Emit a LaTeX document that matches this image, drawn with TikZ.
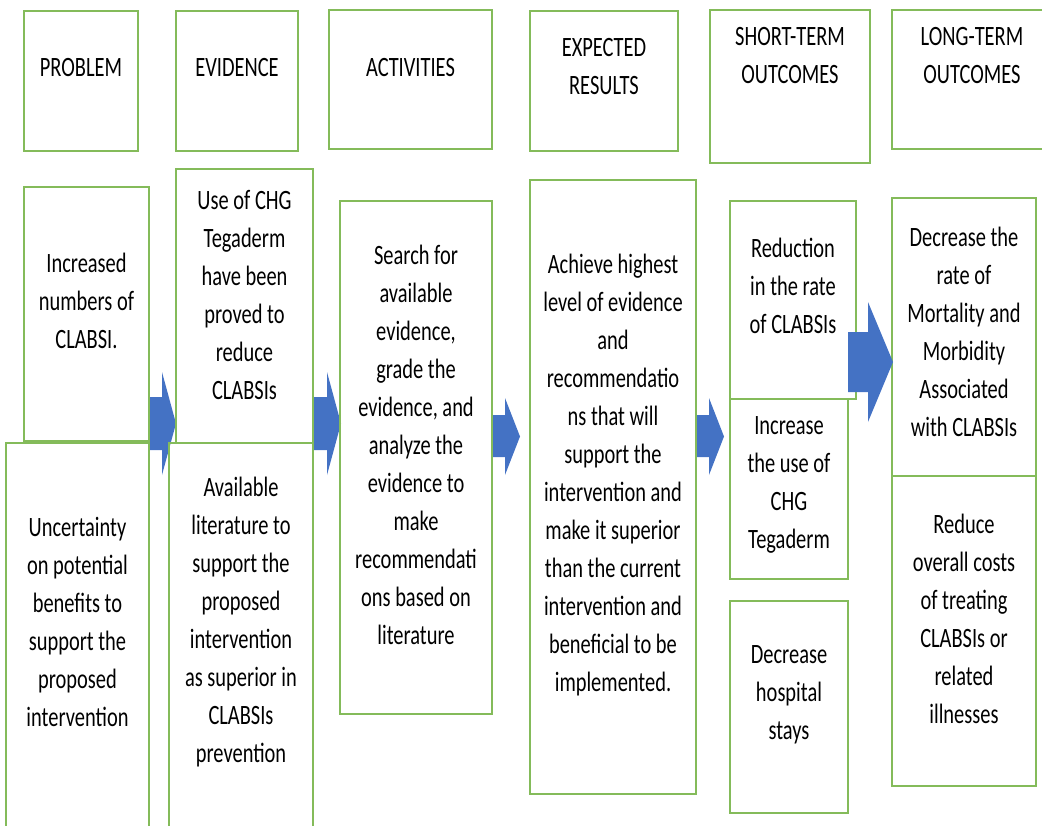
\documentclass[tikz,border=0pt]{standalone}
\usepackage{fontspec}
\setmainfont{Carlito}[FakeStretch=0.73]
\definecolor{boxgreen}{HTML}{84BB5A}
\definecolor{arrowblue}{HTML}{4472C4}
% lines of a cell, raised by #1 above the middle of the cell
\newcommand{\cellstack}[2]{\raisebox{#1}[0pt][0pt]{\begin{tabular}{@{}c@{}}#2\end{tabular}}}

\begin{document}
\begin{tikzpicture}[x=0.75pt,y=-0.75pt]
\tikzstyle{box}=[
  rectangle,
  draw=boxgreen,
  line width=1.2pt,
  inner sep=0pt,
  font=\fontsize{21}{28.5}\selectfont ]
\tikzstyle{blockarrow}=[fill=arrowblue]
\useasboundingbox (0,0) rectangle (1042,825);
\clip (0,0) rectangle (1042,825);
% arrows behind the columns
\fill[blockarrow] (148,397) -- (162,397) -- (162,372) -- (176,423.5)
  -- (162,475) -- (162,450) -- (148,450) -- cycle;
\fill[blockarrow] (313,397) -- (327,397) -- (327,372) -- (341,423.5)
  -- (327,475) -- (327,450) -- (313,450) -- cycle;
\fill[blockarrow] (492,415) -- (505,415) -- (505,398) -- (520,436.5)
  -- (505,475) -- (505,457) -- (492,457) -- cycle;
\fill[blockarrow] (697,415) -- (709,415) -- (709,398) -- (724,436.5)
  -- (709,475) -- (709,457) -- (697,457) -- cycle;
% headings
\node[box, minimum width=85.5pt, minimum height=105pt] (problem) at (81,81)
  {\cellstack{4.15pt}{PROBLEM}};
\node[box, minimum width=91.5pt, minimum height=105pt] (evidence) at (237,81)
  {\cellstack{4.15pt}{EVIDENCE}};
\node[box, minimum width=122.25pt, minimum height=104.25pt] (activities) at (410.5,79.5)
  {\cellstack{3pt}{ACTIVITIES}};
\node[box, minimum width=111pt, minimum height=105pt] (expected) at (604,81)
  {\cellstack{4.9pt}{EXPECTED\\RESULTS}};
\node[box, minimum width=120pt, minimum height=114.75pt] (short) at (790,86.5)
  {\cellstack{17.3pt}{SHORT-TERM\\OUTCOMES}};
\node[box, minimum width=120pt, minimum height=104.25pt] (long) at (972,79.5)
  {\cellstack{12pt}{LONG-TERM\\OUTCOMES}};
% problem column
\node[box, minimum width=93.75pt, minimum height=190.5pt] (problemA) at (86.5,314)
  {\cellstack{3.15pt}{Increased\\numbers of\\CLABSI.}};
\node[box, minimum width=107.25pt, minimum height=290.25pt] (problemB) at (77.5,636.5)
  {\cellstack{3.9pt}{Uncertainty\\on potential\\benefits to\\support the\\proposed\\intervention}};
% evidence column
\node[box, minimum width=102.75pt, minimum height=205.5pt] (evidenceA) at (244.5,306)
  {\cellstack{1.65pt}{Use of CHG\\Tegaderm\\have been\\proved to\\reduce\\CLABSIs}};
\node[box, minimum width=108pt, minimum height=290.25pt] (evidenceB) at (241,636.5)
  {\cellstack{5.8pt}{Available\\literature to\\support the\\proposed\\intervention\\as superior in\\CLABSIs\\prevention}};
% activities
\node[box, minimum width=114pt, minimum height=384.75pt] (search) at (416,457.5)
  {\cellstack{2.9pt}{Search for\\available\\evidence,\\grade the\\evidence, and\\analyze the\\evidence to\\make\\recommendati\\ons based on\\literature}};
% expected results
\node[box, minimum width=124.5pt, minimum height=460.5pt] (achieve) at (613,487)
  {\cellstack{3.6pt}{Achieve highest\\level of evidence\\and\\recommendatio\\ns that will\\support the\\intervention and\\make it superior\\than the current\\intervention and\\beneficial to be\\implemented.}};
% short-term outcomes
\node[box, minimum width=94.5pt, minimum height=148.5pt] (shortA) at (793,300)
  {\cellstack{3.9pt}{Reduction\\in the rate\\of CLABSIs}};
\node[box, minimum width=88.5pt, minimum height=135pt] (shortB) at (789,489)
  {\cellstack{-1.4pt}{Increase\\the use of\\CHG\\Tegaderm}};
\node[box, minimum width=88.5pt, minimum height=159pt] (shortC) at (789,707)
  {\cellstack{4.6pt}{Decrease\\hospital\\stays}};
% long-term outcomes
\node[box, minimum width=108pt, minimum height=208.5pt] (longA) at (964,337)
  {\cellstack{-2.85pt}{Decrease the\\rate of\\Mortality and\\Morbidity\\Associated\\with CLABSIs}};
\node[box, minimum width=108pt, minimum height=232.5pt] (longB) at (964,631)
  {\cellstack{2.4pt}{Reduce\\overall costs\\of treating\\CLABSIs or\\related\\illnesses}};
% last arrow lies over the boxes
\fill[blockarrow] (848,332) -- (868,332) -- (868,302) -- (893,362)
  -- (868,422) -- (868,392) -- (848,392) -- cycle;
\end{tikzpicture}
\end{document}
